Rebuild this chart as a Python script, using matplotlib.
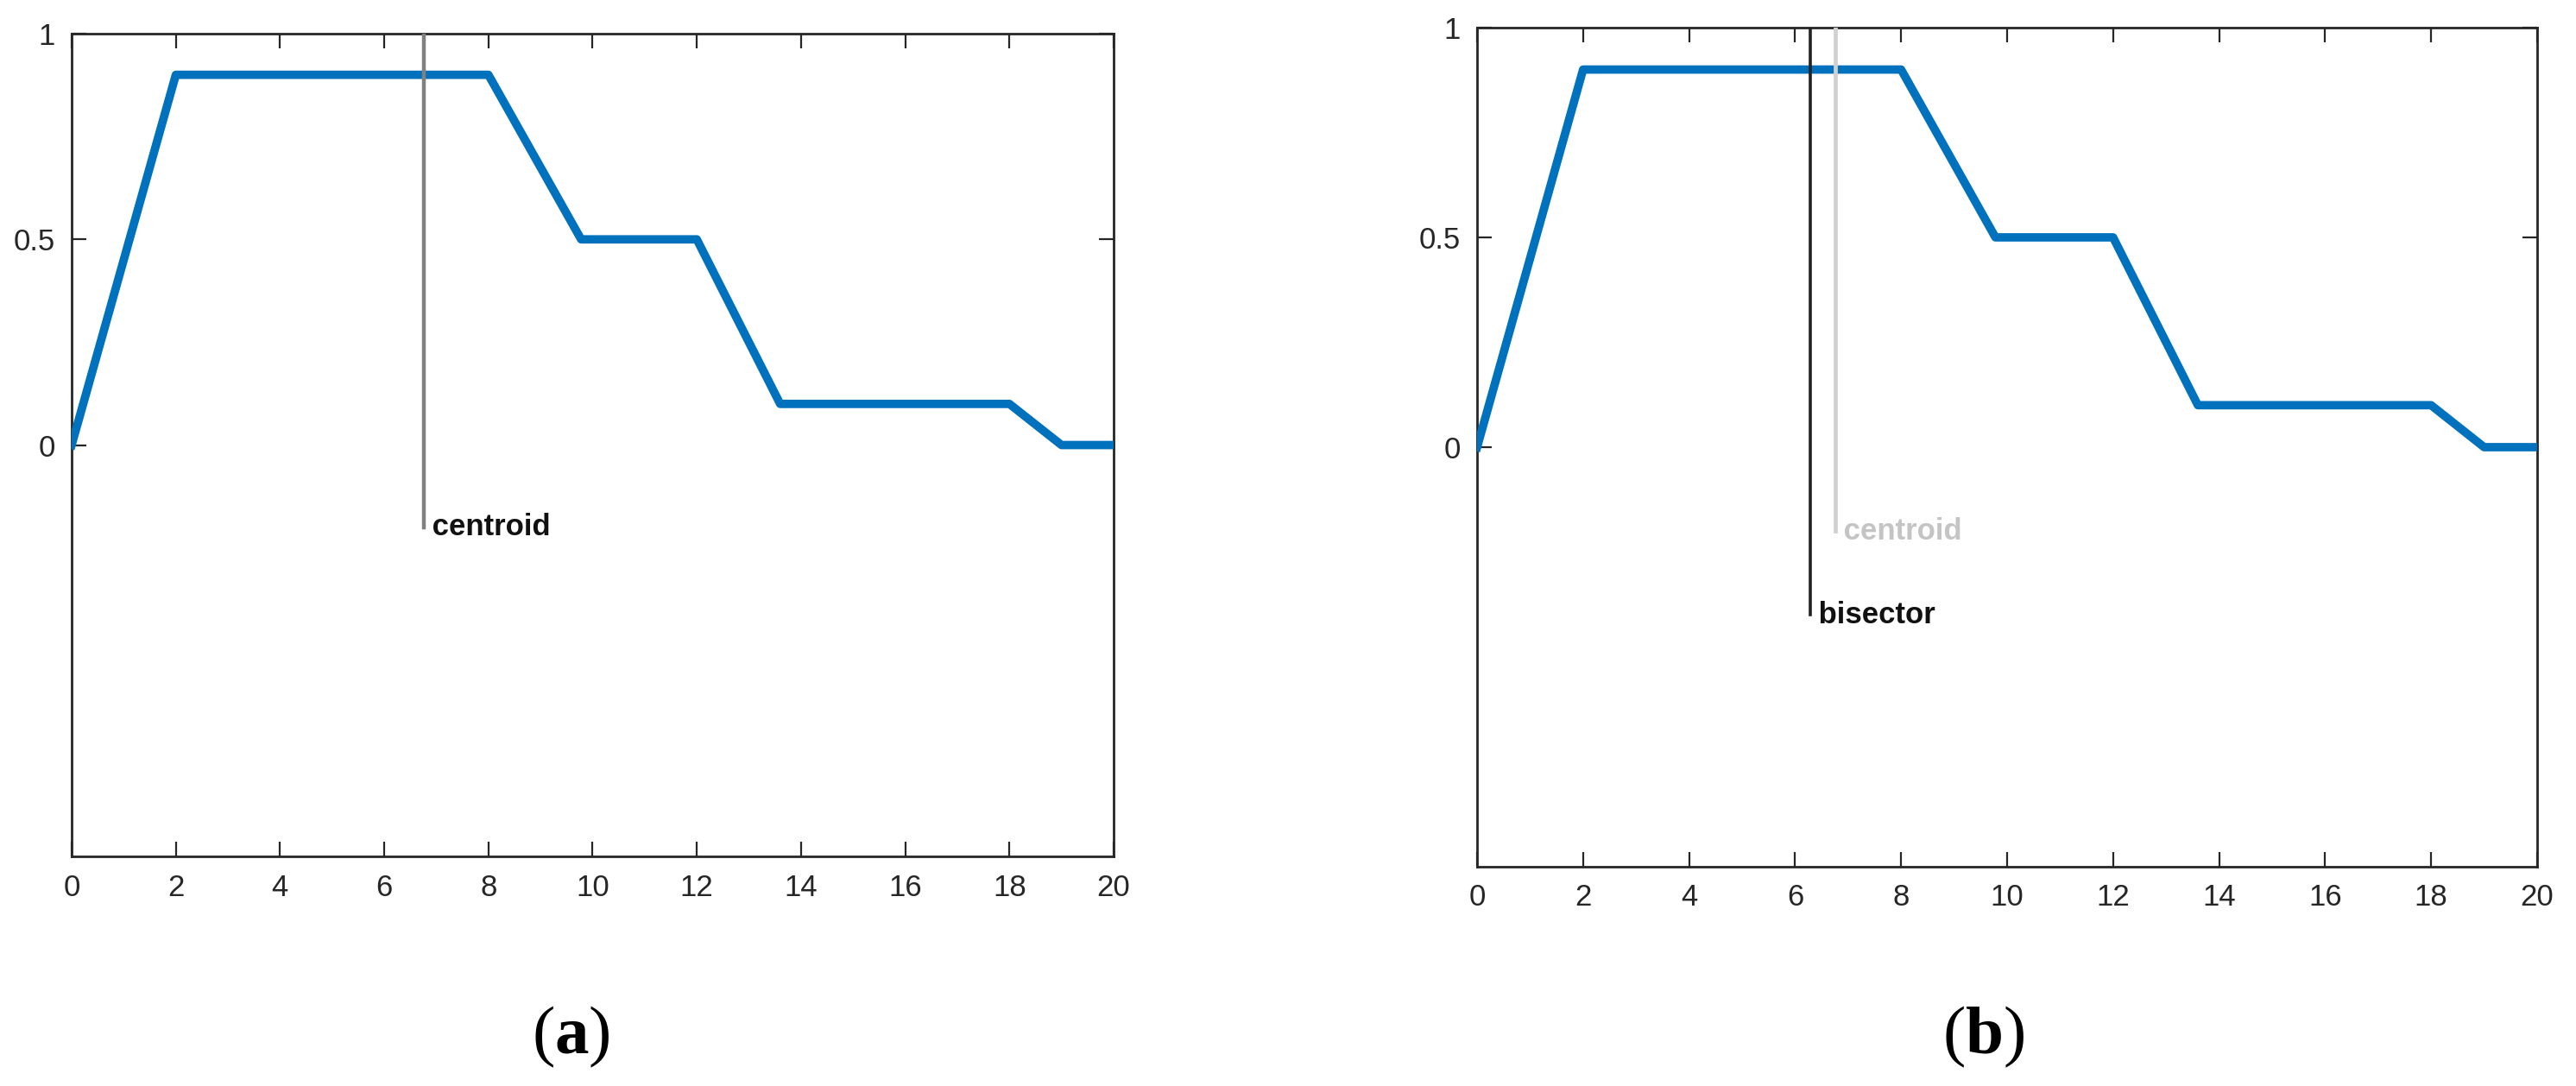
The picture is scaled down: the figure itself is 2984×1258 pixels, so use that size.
#!/usr/bin/env python3

import matplotlib
matplotlib.use("Agg")
import matplotlib.pyplot as plt

plt.rcParams['font.family'] = ['Liberation Sans', 'DejaVu Sans']
plt.rcParams['mathtext.fontset'] = 'custom'
plt.rcParams['mathtext.rm'] = 'Liberation Serif'
plt.rcParams['mathtext.bf'] = 'Liberation Serif:bold'

# aggregated output membership function (vertices)
x_mf = [0, 2, 8, 9.78, 12, 13.6, 18, 19, 20]
y_mf = [0, 0.9, 0.9, 0.5, 0.5, 0.1, 0.1, 0, 0]

x_centroid = 6.76
x_bisector = 6.29

xticks = list(range(0, 21, 2))
yticks = [0, 0.5, 1]

blue = '#0072BD'
axis_col = '#262626'


def setup(ax):
    ax.plot(x_mf, y_mf, color=blue, lw=7, solid_joinstyle='round', zorder=3)
    ax.set_xlim(0, 20)
    ax.set_ylim(-1, 1)
    ax.set_xticks(xticks)
    ax.set_yticks(yticks)
    ax.set_yticklabels(['0', '0.5', '1'])
    ax.tick_params(direction='in', length=12, width=1.6, colors=axis_col,
                   labelsize=25, top=True, right=True, pad=14)
    for s in ax.spines.values():
        s.set_linewidth(2)
        s.set_color(axis_col)


fig = plt.figure(figsize=(29.84, 12.58), dpi=100)

ax1 = fig.add_axes([0.0278, 0.2114, 0.4045, 0.7576])
setup(ax1)
ax1.plot([x_centroid, x_centroid], [-0.2, 1.2], color='#808080', lw=3.2, zorder=4)
ax1.text(x_centroid, -0.2, ' centroid', fontsize=25, fontweight='bold',
         color='#111111', va='center', ha='left')

ax2 = fig.add_axes([0.5734, 0.2019, 0.4115, 0.7727])
setup(ax2)
ax2.plot([x_centroid, x_centroid], [-0.2, 1.2], color='#d0d0d0', lw=3.4, zorder=4)
ax2.text(x_centroid, -0.2, ' centroid', fontsize=25, fontweight='bold',
         color='#c4c4c4', va='center', ha='left')
ax2.plot([x_bisector, x_bisector], [-0.4, 1.2], color='#222222', lw=2.6, zorder=4)
ax2.text(x_bisector, -0.4, ' bisector', fontsize=25, fontweight='bold',
         color='#111111', va='center', ha='left')

fig.text(0.2215, 0.045, r'($\mathbf{a}$)', fontsize=57, ha='center', va='center',
         family='Liberation Serif')
fig.text(0.770, 0.045, r'($\mathbf{b}$)', fontsize=57, ha='center', va='center',
         family='Liberation Serif')

fig.savefig('out.png', dpi=100)
